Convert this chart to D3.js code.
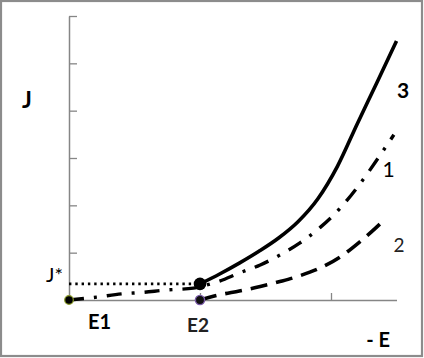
<!DOCTYPE html>
<html>
<head>
<meta charset="utf-8">
<script src="https://cdn.jsdelivr.net/npm/d3@7"></script>
<style>
  html, body { margin: 0; padding: 0; background: #fff; }
  svg { display: block; }
  text { font-family: Lato, "Open Sans", sans-serif; }
</style>
</head>
<body>
<svg id="chart" width="424" height="358"></svg>
<script>
// ---- data ----
const xTicks = [1, 2];
const yTicks = [1, 2, 3, 4, 5, 6];
const jStar = 0.34;
const e1 = 0, e2 = 1;

// curve 3 (solid)
const curve3X = [1.0, 1.15, 1.3, 1.45, 1.6, 1.75, 1.9, 2.05, 2.2, 2.35, 2.5];
const curve3Y = [0.34, 0.55, 0.78, 1.03, 1.31, 1.66, 2.14, 2.83, 3.72, 4.59, 5.47];

// curve 1 (dash-dot)
const curve1X = [0, 0.21, 0.4, 0.56, 0.74, 0.95, 1.0, 1.15, 1.3, 1.46, 1.61, 1.76, 1.92, 2.07, 2.22, 2.37, 2.48];
const curve1Y = [0, 0.06, 0.13, 0.16, 0.21, 0.25, 0.28, 0.40, 0.57, 0.74, 0.95, 1.20, 1.54, 1.94, 2.45, 3.04, 3.49];

// curve 2 (dashed)
const curve2X = [1.0, 1.15, 1.3, 1.46, 1.61, 1.76, 1.92, 2.07, 2.22, 2.34, 2.42];
const curve2Y = [0, 0.11, 0.19, 0.285, 0.39, 0.51, 0.68, 0.91, 1.23, 1.52, 1.73];

const curveLabels = ["3", "1", "2"];
const axisLabels = { y: "J", x: "- E", jStar: "J*", e1: "E1", e2: "E2" };

// ---- drawing ----
const svg = d3.select("#chart");
const x = d3.scaleLinear().domain([0, 2.5]).range([69, 396.5]);
const y = d3.scaleLinear().domain([0, 6]).range([300, 16]);
const axisColor = "#868686";

// outer frame
svg.append("rect").attr("x", 1).attr("y", 1).attr("width", 421).attr("height", 355)
  .attr("fill", "none").attr("stroke", "#8c8c8c").attr("stroke-width", 2.2);

// y axis (ticks inside, to the right)
const yAxis = svg.append("g").attr("transform", `translate(${x(0)},0)`)
  .call(d3.axisRight(y).tickValues(yTicks).tickSize(8).tickFormat("").tickSizeOuter(0));
yAxis.select(".domain").attr("stroke", axisColor).attr("stroke-width", 1.5);
yAxis.selectAll(".tick line").attr("stroke", axisColor).attr("stroke-width", 1.3);

// x axis (ticks upward)
const xAxis = svg.append("g").attr("transform", `translate(0,${y(0)})`)
  .call(d3.axisTop(x).tickValues(xTicks).tickSize(7).tickFormat("").tickSizeOuter(0));
xAxis.select(".domain").attr("stroke", axisColor).attr("stroke-width", 1.5);
xAxis.selectAll(".tick line").attr("stroke", axisColor).attr("stroke-width", 1.3);

const line = d3.line().x(d => x(d[0])).y(d => y(d[1])).curve(d3.curveMonotoneX);
const zip = (a, b) => a.map((v, i) => [v, b[i]]);

// J* dotted line
svg.append("path").attr("d", line([[e1, jStar], [e2, jStar]]))
  .attr("fill", "none").attr("stroke", "#000").attr("stroke-width", 2.8)
  .attr("stroke-dasharray", "2.4 3.9");

// curve 2 dashed
svg.append("path").attr("d", line(zip(curve2X, curve2Y)))
  .attr("fill", "none").attr("stroke", "#000").attr("stroke-width", 3.6)
  .attr("stroke-dasharray", "17 9");

// curve 1 dash-dot
svg.append("path").attr("d", line(zip(curve1X, curve1Y)))
  .attr("fill", "none").attr("stroke", "#000").attr("stroke-width", 3.4)
  .attr("stroke-dasharray", "15 10 3 10");

// curve 3 solid
svg.append("path").attr("d", line(zip(curve3X, curve3Y)))
  .attr("fill", "none").attr("stroke", "#000").attr("stroke-width", 3.6);

// points
svg.append("circle").attr("cx", x(e1)).attr("cy", y(0)).attr("r", 4.3)
  .attr("fill", "#000").attr("stroke", "#8a9a2a").attr("stroke-width", 1.2);
svg.append("circle").attr("cx", x(e2)).attr("cy", y(0)).attr("r", 4.6)
  .attr("fill", "#111").attr("stroke", "#7a5aa8").attr("stroke-width", 1.4);
svg.append("circle").attr("cx", x(e2)).attr("cy", y(jStar)).attr("r", 6.3)
  .attr("fill", "#000");

// labels
svg.append("text").attr("x", 27).attr("y", 108).attr("text-anchor", "middle")
  .attr("font-size", 23).attr("font-weight", "bold").text(axisLabels.y);
svg.append("text").attr("x", 46).attr("y", 282)
  .attr("font-size", 20).text(axisLabels.jStar);
svg.append("text").attr("x", 88).attr("y", 329)
  .attr("font-size", 20).attr("font-weight", "bold").text(axisLabels.e1);
svg.append("text").attr("x", 198).attr("y", 332).attr("text-anchor", "middle")
  .attr("font-size", 19).attr("font-weight", "bold").attr("fill", "#222").text(axisLabels.e2);
svg.append("text").attr("x", 390).attr("y", 347).attr("text-anchor", "end")
  .attr("font-size", 20).attr("font-weight", "bold").text(axisLabels.x);

const labelPos = [[2.55, 4.27, "bold", 21, "#000"], [2.44, 2.6, "normal", 21, "#000"], [2.52, 1.01, "normal", 19, "#222"]];
curveLabels.forEach((t, i) => {
  const p = labelPos[i];
  svg.append("text").attr("x", x(p[0])).attr("y", y(p[1])).attr("text-anchor", "middle")
    .attr("font-size", p[3]).attr("font-weight", p[2]).attr("fill", p[4]).text(t);
});
</script>
</body>
</html>
